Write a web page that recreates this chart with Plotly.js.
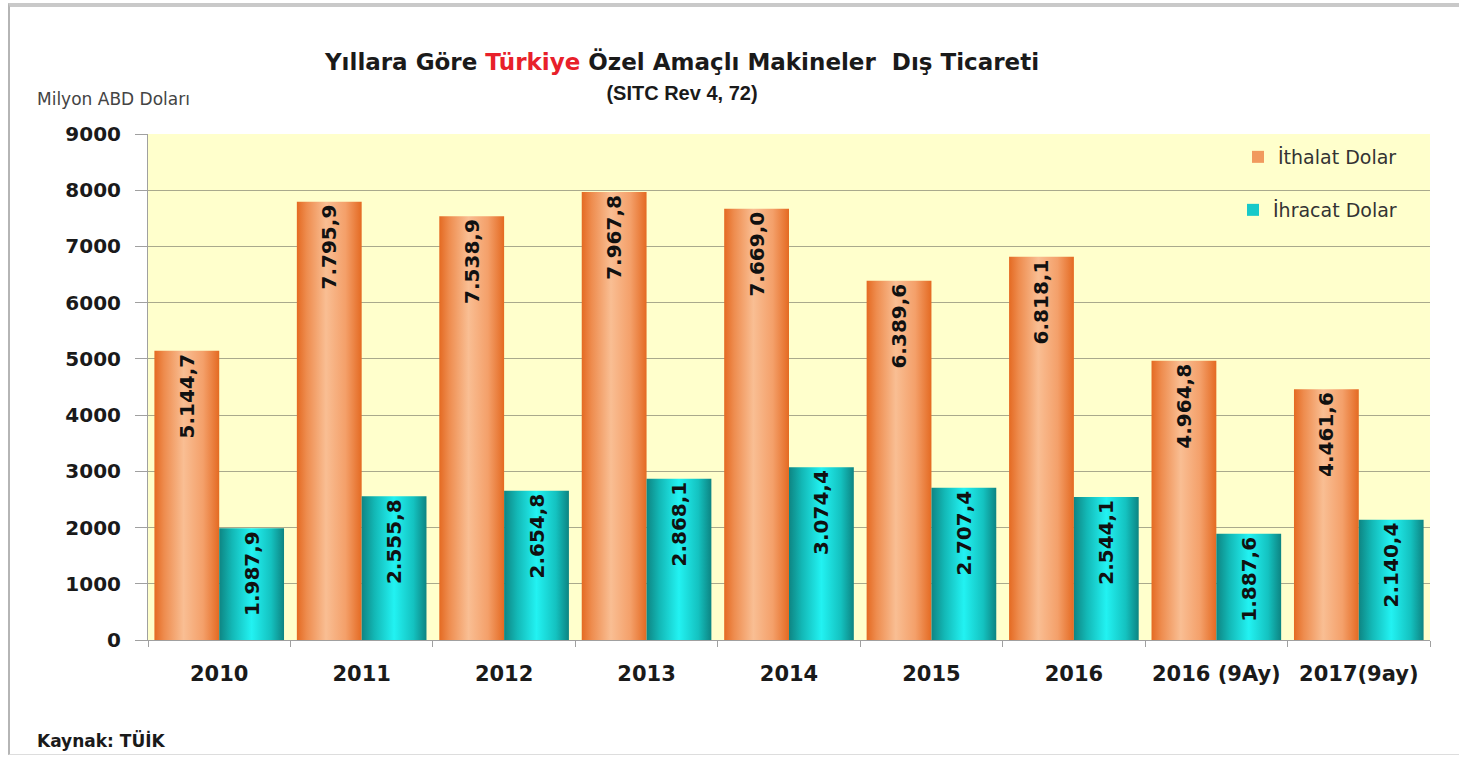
<!DOCTYPE html>
<html>
<head>
<meta charset="utf-8">
<script src="https://cdn.plot.ly/plotly-3.0.1.min.js"></script>
<style>
  html, body { margin: 0; padding: 0; background: #ffffff; }
  #chart { position: absolute; left: 0; top: 0; width: 1461px; height: 759px; }
  #frame { position: absolute; left: 8px; top: 3px; width: 1451px; height: 752px;
           border-top: 4px solid #c9c9c9; border-left: 2px solid #b5b5b5;
           border-bottom: 1px solid #dddddd; pointer-events: none; box-sizing: border-box; }
</style>
</head>
<body>
<div id="chart"></div>
<div id="frame"></div>
<script>
const categories = ['2010', '2011', '2012', '2013', '2014', '2015', '2016', '2016 (9Ay)', '2017(9ay)'];
const ithalat = [5144.7, 7795.9, 7538.9, 7967.8, 7669.0, 6389.6, 6818.1, 4964.8, 4461.6];
const ihracat = [1987.9, 2555.8, 2654.8, 2868.1, 3074.4, 2707.4, 2544.1, 1887.6, 2140.4];
const seriesNames = ['İthalat Dolar', 'İhracat Dolar'];
const yTicks = [0, 1000, 2000, 3000, 4000, 5000, 6000, 7000, 8000, 9000];

const FONT = 'DejaVu Sans, Verdana, sans-serif';
const labelFont = { family: FONT, size: 20, color: '#111111', weight: 'bold' };

const traces = [
  {
    type: 'bar', name: seriesNames[0], x: categories, y: ithalat,
    marker: { color: '#F19A5E' },
    texttemplate: '<b>%{y:,.1f}</b>', textposition: 'inside', insidetextanchor: 'end',
    textangle: -90, textfont: labelFont, constraintext: 'none', cliponaxis: false,
    legend: 'legend'
  },
  {
    type: 'bar', name: seriesNames[1], x: categories, y: ihracat,
    marker: { color: '#17C9C9' },
    texttemplate: '<b>%{y:,.1f}</b>', textposition: 'inside', insidetextanchor: 'end',
    textangle: -90, textfont: labelFont, constraintext: 'none', cliponaxis: false,
    legend: 'legend2'
  }
];

const PW = 1282, PH = 506;
const layout = {
  width: 1461, height: 759,
  margin: { l: 148, r: 31, t: 134, b: 119, autoexpand: false },
  paper_bgcolor: 'rgba(0,0,0,0)',
  plot_bgcolor: '#FFFFCC',
  separators: ',.',
  barmode: 'group', bargap: 0.09, bargroupgap: 0,
  title: {
    text: 'Yıllara Göre <span style="color:#E8202A">Türkiye</span> Özel Amaçlı Makineler  Dış Ticareti' +
          '<br><span style="font-size:20px;font-family:Liberation Sans">(SITC Rev 4, 72)</span>',
    x: 682 / 1461, xanchor: 'center', xref: 'container',
    y: 1 - 70 / 759, yanchor: 'top', yref: 'container',
    font: { family: FONT, size: 23, color: '#1a1a1a', weight: 'bold' }
  },
  xaxis: {
    type: 'category', tickson: 'boundaries', ticks: 'outside', ticklen: 6, tickcolor: '#a0a0a0',
    showline: true, linecolor: '#a0a0a0', linewidth: 1,
    tickfont: { family: FONT, size: 21, color: '#1a1a1a', weight: 'bold' },
    ticklabelstandoff: 15,
    showgrid: false, fixedrange: true, automargin: false
  },
  yaxis: {
    range: [0, 9000], tickvals: yTicks, ticktext: yTicks.map(String),
    ticks: 'outside', ticklen: 12, tickcolor: '#a0a0a0',
    showline: true, linecolor: '#a0a0a0', linewidth: 1,
    gridcolor: '#A9A98C', gridwidth: 1, zeroline: false,
    tickfont: { family: FONT, size: 20, color: '#1a1a1a', weight: 'bold' },
    ticklabelstandoff: 10, fixedrange: true, automargin: false
  },
  showlegend: true,
  legend: {
    x: (1402 - 148) / PW, xref: 'paper', xanchor: 'right',
    y: (640 - 157) / PH, yref: 'paper', yanchor: 'middle',
    bgcolor: 'rgba(0,0,0,0)', borderwidth: 0,
    font: { family: 'DejaVu Sans, sans-serif', size: 19, color: '#333333' },
    itemwidth: 30
  },
  legend2: {
    x: (1402 - 148) / PW, xref: 'paper', xanchor: 'right',
    y: (640 - 210) / PH, yref: 'paper', yanchor: 'middle',
    bgcolor: 'rgba(0,0,0,0)', borderwidth: 0,
    font: { family: 'DejaVu Sans, sans-serif', size: 19, color: '#333333' },
    itemwidth: 30
  },
  annotations: [
    { text: 'Milyon ABD Doları', xref: 'paper', yref: 'paper', x: -113 / PW, y: 1 + 35 / PH,
      xanchor: 'left', yanchor: 'middle', showarrow: false,
      font: { family: 'DejaVu Sans, sans-serif', size: 17, color: '#444444' } },
    { text: '<b>Kaynak: TÜİK</b>', xref: 'paper', yref: 'paper', x: -113 / PW, y: -100 / PH,
      xanchor: 'left', yanchor: 'middle', showarrow: false,
      font: { family: FONT, size: 17, color: '#1a1a1a' } }
  ]
};

Plotly.newPlot('chart', traces, layout, { displayModeBar: false, staticPlot: true }).then(function (gd) {
  const svg = gd.querySelector('.main-svg');
  const ns = 'http://www.w3.org/2000/svg';
  let defs = svg.querySelector('defs');
  if (!defs) { defs = document.createElementNS(ns, 'defs'); svg.insertBefore(defs, svg.firstChild); }
  function grad(id, stops) {
    const g = document.createElementNS(ns, 'linearGradient');
    g.setAttribute('id', id);
    g.setAttribute('x1', '0'); g.setAttribute('y1', '0');
    g.setAttribute('x2', '1'); g.setAttribute('y2', '0');
    stops.forEach(function (s) {
      const st = document.createElementNS(ns, 'stop');
      st.setAttribute('offset', s[0]);
      st.setAttribute('stop-color', s[1]);
      g.appendChild(st);
    });
    defs.appendChild(g);
  }
  grad('gradO', [['0', '#E46A22'], ['0.15', '#EE8C4E'], ['0.45', '#F9BE93'], ['0.75', '#F4A06A'], ['1', '#E46A22']]);
  grad('gradT', [['0', '#0E8583'], ['0.2', '#13B8B6'], ['0.5', '#22F2F2'], ['0.8', '#14C2C0'], ['1', '#0D8482']]);
  const ids = ['url(#gradO)', 'url(#gradT)'];
  gd.querySelectorAll('.barlayer .trace.bars').forEach(function (t, i) {
    t.querySelectorAll('path').forEach(function (p) { p.style.fill = ids[i]; p.style.stroke = 'none'; });
  });
  gd.querySelectorAll('.legendpoints path').forEach(function (p) { p.style.stroke = 'none'; });
});
</script>
</body>
</html>
